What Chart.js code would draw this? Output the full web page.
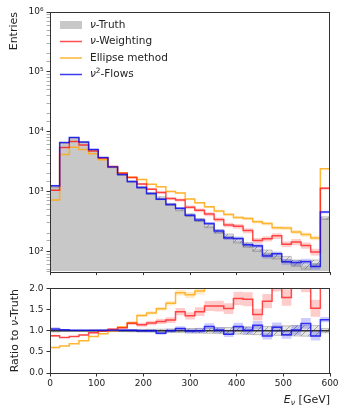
<!DOCTYPE html>
<html>
<head>
<meta charset="utf-8">
<script src="https://cdn.jsdelivr.net/npm/chart.js@4.4.1/dist/chart.umd.min.js"></script>
<style>
  html, body { margin: 0; padding: 0; background: #fff; }
  #wrap { position: relative; width: 341px; height: 406px; }
  #topChart { position: absolute; left: 0; top: 0; }
  #ratioChart { position: absolute; left: 0; top: 280px; }
</style>
</head>
<body>
<div id="wrap">
  <canvas id="topChart" width="341" height="280"></canvas>
  <canvas id="ratioChart" width="341" height="126"></canvas>
</div>
<script>
// 29 bins of neutrino energy, 0-600 GeV (last bin collects overflow)
const binEdges = [0, 20.69, 41.38, 62.07, 82.76, 103.45, 124.14, 144.83, 165.52, 186.21,
  206.9, 227.59, 248.28, 268.97, 289.66, 310.34, 331.03, 351.72, 372.41, 393.1,
  413.79, 434.48, 455.17, 475.86, 496.55, 517.24, 537.93, 558.62, 579.31, 600];

const truthCounts = [1200, 6500, 7950, 6650, 5000, 3650, 2550, 1900, 1460, 1170,
  930, 790, 610, 500, 405, 335, 265, 215, 182, 150,
  128, 110, 96, 84, 74, 64, 58, 64, 360];
const weightingCounts = [1056, 5460, 6840, 5985, 4750, 3650, 2630, 2030, 1720, 1334,
  1097, 964, 763, 725, 547, 486, 420, 340, 277, 264,
  223, 152, 163, 182, 132, 144, 126, 98, 1134];
const ellipseCounts = [720, 4160, 5490, 5054, 4300, 3395, 2550, 2071, 1737, 1591,
  1321, 1201, 1006, 950, 749, 650, 555, 472, 415, 368,
  355, 313, 292, 248, 245, 212, 191, 168, 2400];
const flowsCounts = [1250, 6630, 8030, 6720, 5050, 3690, 2580, 1920, 1475, 1170,
  930, 743, 610, 525, 401, 335, 292, 219, 167, 165,
  129, 124, 84, 91, 67, 65, 68, 56, 454];

// relative statistical uncertainties per bin
const truthRelErr = [0.03, 0.012, 0.011, 0.012, 0.014, 0.017, 0.02, 0.023, 0.026, 0.03,
  0.033, 0.036, 0.04, 0.045, 0.05, 0.055, 0.06, 0.068, 0.075, 0.08,
  0.09, 0.095, 0.1, 0.11, 0.115, 0.125, 0.13, 0.125, 0.05];
const weightingRelErr = [0.03, 0.015, 0.014, 0.015, 0.018, 0.022, 0.026, 0.03, 0.035, 0.04,
  0.045, 0.05, 0.055, 0.06, 0.065, 0.07, 0.075, 0.08, 0.085, 0.09,
  0.095, 0.1, 0.1, 0.11, 0.11, 0.12, 0.12, 0.13, 0.05];
const ellipseRelErr = [0.03, 0.012, 0.011, 0.012, 0.013, 0.015, 0.017, 0.02, 0.022, 0.025,
  0.028, 0.03, 0.033, 0.036, 0.04, 0.043, 0.046, 0.05, 0.053, 0.056,
  0.06, 0.063, 0.066, 0.07, 0.073, 0.076, 0.08, 0.083, 0.02];
const flowsRelErr = [0.04, 0.015, 0.013, 0.014, 0.016, 0.02, 0.023, 0.026, 0.03, 0.034,
  0.038, 0.04, 0.045, 0.05, 0.055, 0.06, 0.065, 0.07, 0.075, 0.08,
  0.085, 0.09, 0.095, 0.1, 0.105, 0.11, 0.11, 0.12, 0.05];

const xTicks = [0, 100, 200, 300, 400, 500, 600];
const ratioTicks = [0, 0.5, 1, 1.5, 2];

const FONT = 'DejaVu Sans';
const TEXT = '#222';
const AXIS = '#333';
const truthGray = '#c8c8c8';
const red = 'rgba(255, 20, 20, 0.75)';
const orange = 'rgba(255, 170, 20, 0.85)';
const blue = 'rgba(10, 10, 240, 0.8)';
const redBand = 'rgba(255, 0, 0, 0.2)';
const orangeBand = 'rgba(255, 165, 0, 0.22)';
const blueBand = 'rgba(0, 0, 255, 0.2)';
const hatchEdge = 'rgba(120, 120, 120, 0.5)';
const yFloor = 46;

function hatchPattern() {
  const n = 7;
  const c = document.createElement('canvas');
  c.width = n; c.height = n;
  const g = c.getContext('2d');
  g.fillStyle = 'rgba(170, 170, 170, 0.3)';
  g.fillRect(0, 0, n, n);
  g.strokeStyle = 'rgba(95, 95, 95, 0.65)';
  g.lineWidth = 0.8;
  g.beginPath();
  g.moveTo(0, n); g.lineTo(n, 0);
  g.moveTo(-n / 2, n / 2); g.lineTo(n / 2, -n / 2);
  g.moveTo(n / 2, n * 1.5); g.lineTo(n * 1.5, n / 2);
  g.stroke();
  return g.createPattern(c, 'repeat');
}
const hatch = hatchPattern();

// histogram outline; withBase adds the drop to the bottom at both ends
function stepPts(vals, withBase) {
  const pts = [];
  if (withBase) pts.push({x: binEdges[0], y: yFloor});
  vals.forEach((v, i) => pts.push({x: binEdges[i], y: v}));
  pts.push({x: binEdges[vals.length], y: vals[vals.length - 1]});
  if (withBase) pts.push({x: binEdges[vals.length], y: yFloor});
  return pts;
}
const scaled = (vals, errs, sign) => vals.map((v, i) => v * (1 + sign * errs[i]));
const ratioOf = (vals) => vals.map((v, i) => v / truthCounts[i]);

function lineDs(vals, color, order, withBase) {
  return {data: stepPts(vals, withBase), stepped: 'before', borderColor: color, borderWidth: 1.5,
    pointRadius: 0, fill: false, order: order};
}
// pushes a lower/upper pair and fills between them
function pushBand(list, lower, upper, fillStyle, edge, order) {
  const lowIdx = list.length;
  list.push({data: stepPts(lower, false), stepped: 'before', borderColor: edge, borderWidth: 0.8,
    pointRadius: 0, fill: false, order: order});
  list.push({data: stepPts(upper, false), stepped: 'before', borderColor: edge, borderWidth: 0.8,
    pointRadius: 0, fill: {target: lowIdx}, backgroundColor: fillStyle, order: order});
}

function setFont(ctx, st, size) {
  const small = st === 'sup' || st === 'isub';
  const italic = st === 'i' || st === 'isub';
  ctx.font = (italic ? 'italic ' : '') + (small ? size * 0.7 : size) + 'px "' + FONT + '"';
}
function drawRich(ctx, parts, x, y, size, align) {
  let w = 0;
  parts.forEach(([t, st]) => { setFont(ctx, st, size); w += ctx.measureText(t).width; });
  let cx = align === 'right' ? x - w : align === 'center' ? x - w / 2 : x;
  ctx.textAlign = 'left';
  ctx.textBaseline = 'middle';
  ctx.fillStyle = TEXT;
  parts.forEach(([t, st]) => {
    setFont(ctx, st, size);
    const dy = st === 'sup' ? -size * 0.35 : st === 'isub' ? size * 0.3 : 0;
    ctx.fillText(t, cx, y + dy);
    cx += ctx.measureText(t).width;
  });
}

const frame = {
  id: 'frame',
  afterDatasetsDraw(chart) {
    const a = chart.chartArea, ctx = chart.ctx;
    ctx.save();
    ctx.strokeStyle = AXIS;
    ctx.lineWidth = 1;
    ctx.strokeRect(Math.round(a.left) + 0.5, Math.round(a.top) + 0.5,
      Math.round(a.right - a.left) - 1, Math.round(a.bottom - a.top));
    ctx.restore();
  }
};

const legendItems = [
  {label: [['ν', 'i'], ['-Truth', 'n']], kind: 'patch', color: truthGray},
  {label: [['ν', 'i'], ['-Weighting', 'n']], kind: 'line', color: red},
  {label: [['Ellipse method', 'n']], kind: 'line', color: orange},
  {label: [['ν', 'i'], ['2', 'sup'], ['-Flows', 'n']], kind: 'line', color: blue}
];

const topDecor = {
  id: 'topDecor',
  afterDraw(chart) {
    const ctx = chart.ctx, a = chart.chartArea;
    ctx.save();
    legendItems.forEach((item, i) => {
      const y = a.top + 13 + i * 16.5;
      if (item.kind === 'patch') {
        ctx.fillStyle = item.color;
        ctx.fillRect(a.left + 10, y - 4, 22, 8);
      } else {
        ctx.strokeStyle = item.color;
        ctx.lineWidth = 1.5;
        ctx.beginPath();
        ctx.moveTo(a.left + 10, y);
        ctx.lineTo(a.left + 32, y);
        ctx.stroke();
      }
      drawRich(ctx, item.label, a.left + 40, y, 10.5, 'left');
    });
    ctx.translate(14, a.top);
    ctx.rotate(-Math.PI / 2);
    drawRich(ctx, [['Entries', 'n']], 0, 0, 11, 'right');
    ctx.restore();
  }
};

const ratioDecor = {
  id: 'ratioDecor',
  afterDraw(chart) {
    const ctx = chart.ctx, a = chart.chartArea;
    ctx.save();
    drawRich(ctx, [['E', 'i'], ['ν', 'isub'], [' [GeV]', 'n']], a.right, chart.height - 6, 11, 'right');
    ctx.translate(15, (a.top + a.bottom) / 2);
    ctx.rotate(-Math.PI / 2);
    drawRich(ctx, [['Ratio to ', 'n'], ['ν', 'i'], ['-Truth', 'n']], 0, 0, 11, 'center');
    ctx.restore();
  }
};

const supDigits = {'0': '⁰', '1': '¹', '2': '²', '3': '³', '4': '⁴', '5': '⁵', '6': '⁶', '7': '⁷', '8': '⁸', '9': '⁹'};
function logLabel(v) {
  const e = Math.log10(v);
  if (Math.abs(e - Math.round(e)) > 1e-6) return '';
  return '10' + String(Math.round(e)).split('').map(d => supDigits[d]).join('');
}

const tickFont = {family: FONT, size: 9};

// upper panel
const topSets = [];
topSets.push(lineDs(flowsCounts, blue, 0, true));
topSets.push(lineDs(weightingCounts, red, 1, true));
topSets.push(lineDs(ellipseCounts, orange, 2, true));
pushBand(topSets, scaled(flowsCounts, flowsRelErr, -1), scaled(flowsCounts, flowsRelErr, 1), blueBand, 'rgba(0,0,0,0)', 3);
pushBand(topSets, scaled(weightingCounts, weightingRelErr, -1), scaled(weightingCounts, weightingRelErr, 1), redBand, 'rgba(0,0,0,0)', 4);
pushBand(topSets, scaled(ellipseCounts, ellipseRelErr, -1), scaled(ellipseCounts, ellipseRelErr, 1), orangeBand, 'rgba(0,0,0,0)', 5);
pushBand(topSets, scaled(truthCounts, truthRelErr, -1), scaled(truthCounts, truthRelErr, 1), hatch, hatchEdge, 6);
topSets.push({data: stepPts(truthCounts, true), stepped: 'before', borderColor: 'rgba(0,0,0,0)', borderWidth: 1,
  pointRadius: 0, fill: 'start', backgroundColor: truthGray, order: 7});

new Chart(document.getElementById('topChart'), {
  type: 'line',
  data: {datasets: topSets},
  options: {
    responsive: false,
    animation: false,
    layout: {padding: {top: 12, right: 11, left: 0, bottom: 0}},
    plugins: {legend: {display: false}, tooltip: {enabled: false}},
    scales: {
      x: {
        type: 'linear', min: 0, max: 600,
        afterBuildTicks: (s) => { s.ticks = xTicks.map(v => ({value: v})); },
        afterFit: (s) => { s.height = 7; },
        ticks: {display: false},
        grid: {drawOnChartArea: false, drawTicks: true, tickLength: 3.5, tickColor: AXIS},
        border: {display: false}
      },
      y: {
        type: 'logarithmic', min: yFloor, max: 1e6,
        afterFit: (s) => { s.width = 50; },
        ticks: {autoSkip: false, font: tickFont, color: TEXT, padding: 3, callback: (v) => logLabel(v)},
        grid: {
          drawOnChartArea: false, drawTicks: true, tickLength: 3.5,
          tickColor: (c) => logLabel(c.tick.value) ? AXIS : '#888',
          tickWidth: (c) => logLabel(c.tick.value) ? 1 : 0.7
        },
        border: {display: false}
      }
    }
  },
  plugins: [frame, topDecor]
});

// ratio panel
const ratioSets = [];
const one = truthCounts.map(() => 1);
ratioSets.push(lineDs(ratioOf(flowsCounts), blue, 0, false));
ratioSets.push(lineDs(ratioOf(weightingCounts), red, 1, false));
ratioSets.push(lineDs(ratioOf(ellipseCounts), orange, 2, false));
pushBand(ratioSets, scaled(ratioOf(flowsCounts), flowsRelErr, -1), scaled(ratioOf(flowsCounts), flowsRelErr, 1), blueBand, 'rgba(0,0,0,0)', 3);
pushBand(ratioSets, scaled(ratioOf(weightingCounts), weightingRelErr, -1), scaled(ratioOf(weightingCounts), weightingRelErr, 1), redBand, 'rgba(0,0,0,0)', 4);
pushBand(ratioSets, scaled(ratioOf(ellipseCounts), ellipseRelErr, -1), scaled(ratioOf(ellipseCounts), ellipseRelErr, 1), orangeBand, 'rgba(0,0,0,0)', 5);
ratioSets.push({data: stepPts(one, false), stepped: 'before', borderColor: '#333', borderWidth: 1.5,
  pointRadius: 0, fill: false, order: 6});
pushBand(ratioSets, scaled(one, truthRelErr, -1), scaled(one, truthRelErr, 1), hatch, hatchEdge, 7);
ratioSets.forEach(d => { d.clip = 0; });

new Chart(document.getElementById('ratioChart'), {
  type: 'line',
  data: {datasets: ratioSets},
  options: {
    responsive: false,
    animation: false,
    layout: {padding: {top: 7, right: 11, left: 0, bottom: 0}},
    plugins: {legend: {display: false}, tooltip: {enabled: false}},
    scales: {
      x: {
        type: 'linear', min: 0, max: 600,
        afterBuildTicks: (s) => { s.ticks = xTicks.map(v => ({value: v})); },
        afterFit: (s) => { s.height = 33; },
        ticks: {font: tickFont, color: TEXT, padding: 2, maxRotation: 0},
        grid: {drawOnChartArea: false, drawTicks: true, tickLength: 3.5, tickColor: AXIS},
        border: {display: false}
      },
      y: {
        type: 'linear', min: 0, max: 2,
        afterBuildTicks: (s) => { s.ticks = ratioTicks.map(v => ({value: v})); },
        afterFit: (s) => { s.width = 50; },
        ticks: {font: tickFont, color: TEXT, padding: 3, callback: (v) => v.toFixed(1)},
        grid: {drawOnChartArea: false, drawTicks: true, tickLength: 3.5, tickColor: AXIS},
        border: {display: false}
      }
    }
  },
  plugins: [frame, ratioDecor]
});
</script>
</body>
</html>
